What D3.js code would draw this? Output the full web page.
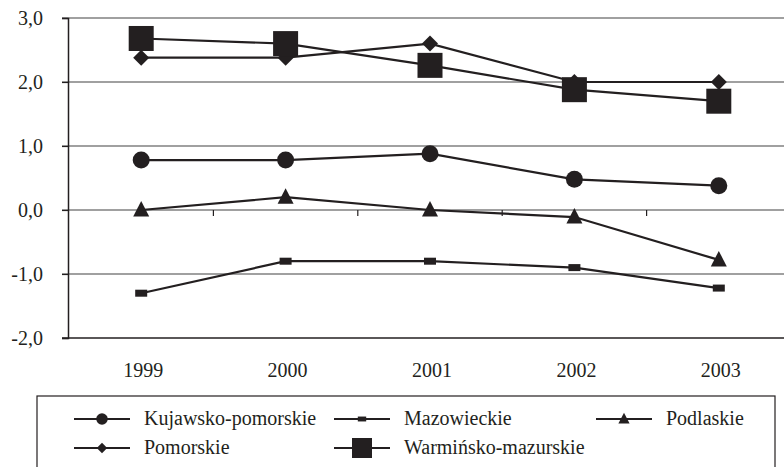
<!DOCTYPE html>
<html><head><meta charset="utf-8">
<script src="https://cdn.jsdelivr.net/npm/d3@7"></script>
<style>body{margin:0;background:#fff}svg{display:block}svg text{font-family:'Liberation Serif','DejaVu Serif',serif !important;fill:#231f20}</style>
</head><body><svg id="c" width="784" height="467"></svg>
<script>
const years = ["1999","2000","2001","2002","2003"];
const yTicks = [-2,-1,0,1,2,3];
const kujawsko = [0.78,0.78,0.88,0.48,0.38];
const mazowieckie = [-1.3,-0.8,-0.8,-0.9,-1.22];
const podlaskie = [0.0,0.2,0.0,-0.11,-0.78];
const pomorskie = [2.38,2.38,2.6,2.0,2.0];
const warminsko = [2.68,2.6,2.26,1.88,1.7];
const seriesNames = ["Kujawsko-pomorskie","Mazowieckie","Podlaskie","Pomorskie","Warmińsko-mazurskie"];

const series = [
  {name:seriesNames[0], values:kujawsko, m:"circle"},
  {name:seriesNames[1], values:mazowieckie, m:"rect"},
  {name:seriesNames[2], values:podlaskie, m:"tri"},
  {name:seriesNames[3], values:pomorskie, m:"diamond"},
  {name:seriesNames[4], values:warminsko, m:"bigsq"}
];
const ink = "#231f20";
const FONT = "'Liberation Serif','DejaVu Serif',serif";
const svg = d3.select("#c").attr("font-family",FONT);
const x = d3.scaleBand().domain(years).range([69,791]);
const y = d3.scaleLinear().domain([-2,3]).range([338,18]);

// gridlines
svg.append("g").selectAll("line").data(yTicks.filter(d=>d>-2)).join("line")
  .attr("x1",62).attr("x2",784).attr("y1",d=>y(d)).attr("y2",d=>y(d))
  .attr("stroke","#808080").attr("stroke-width",1.5);
// bottom axis
svg.append("line").attr("x1",62).attr("x2",784).attr("y1",y(-2)).attr("y2",y(-2)).attr("stroke",ink).attr("stroke-width",1.5);
// left axis
const ya = d3.axisLeft(y).tickValues(yTicks).tickSize(6).tickFormat(d=>d3.format(".1f")(d).replace(".",",").replace("−","-"));
const yg = svg.append("g").attr("transform","translate(68,0)").call(ya);
yg.attr("font-family",FONT).attr("font-size",20);
yg.select(".domain").attr("stroke",ink).attr("stroke-width",1.5);
yg.selectAll(".tick line").attr("stroke",ink).attr("stroke-width",1.2);
yg.selectAll(".tick text").attr("x",-25).attr("fill",ink);
// category ticks on zero line
const bounds = years.slice(1).map(d=>x(d));
svg.append("g").selectAll("line").data(bounds).join("line")
  .attr("x1",d=>d).attr("x2",d=>d).attr("y1",y(0)).attr("y2",y(0)+6)
  .attr("stroke",ink).attr("stroke-width",1.2);
// x labels
svg.append("g").selectAll("text").data(years).join("text")
  .attr("x",d=>x(d)+x.bandwidth()/2+2).attr("y",377).attr("text-anchor","middle")
  .attr("font-family",FONT).attr("font-size",20).text(d=>d);

function marker(g, type, cx, cy, s){
  s = s||1;
  if(type==="circle") g.append("circle").attr("cx",cx).attr("cy",cy).attr("r",8.5*s).attr("fill",ink);
  else if(type==="rect") g.append("rect").attr("x",cx-6*s).attr("y",cy-3.5*s).attr("width",12*s).attr("height",7*s).attr("fill",ink);
  else if(type==="tri") g.append("path").attr("d",`M${cx},${cy-9*s}L${cx+8*s},${cy+6.5*s}L${cx-8*s},${cy+6.5*s}Z`).attr("fill",ink);
  else if(type==="diamond") g.append("path").attr("d",`M${cx},${cy-8*s}L${cx+8*s},${cy}L${cx},${cy+8*s}L${cx-8*s},${cy}Z`).attr("fill",ink);
  else if(type==="bigsq") g.append("rect").attr("x",cx-12.5*s).attr("y",cy-12.5*s).attr("width",25*s).attr("height",25*s).attr("fill",ink);
}
const line = d3.line().x((d,i)=>x(years[i])+x.bandwidth()/2).y(d=>y(d));
series.forEach(s=>{
  const g = svg.append("g");
  g.append("path").attr("d",line(s.values)).attr("fill","none").attr("stroke",ink).attr("stroke-width",2.2);
  s.values.forEach((v,i)=>marker(g,s.m,x(years[i])+x.bandwidth()/2,y(v)));
});

// legend
svg.append("rect").attr("x",37).attr("y",396).attr("width",738).attr("height",90).attr("fill","none").attr("stroke",ink).attr("stroke-width",1.2);
const legPos = [[74,419],[334,419],[596,419],[74,448],[334,448]];
const legScale = {circle:0.68,rect:0.7,tri:0.7,diamond:0.65,bigsq:0.8};
series.forEach((s,i)=>{
  const [lx,ly] = legPos[i];
  const g = svg.append("g");
  g.append("line").attr("x1",lx).attr("x2",lx+56).attr("y1",ly).attr("y2",ly).attr("stroke",ink).attr("stroke-width",2.2);
  marker(g,s.m,lx+28,ly,legScale[s.m]);
  g.append("text").attr("x",lx+70).attr("y",ly+6).attr("font-family",FONT).attr("font-size",20).text(s.name);
});
</script></body></html>
